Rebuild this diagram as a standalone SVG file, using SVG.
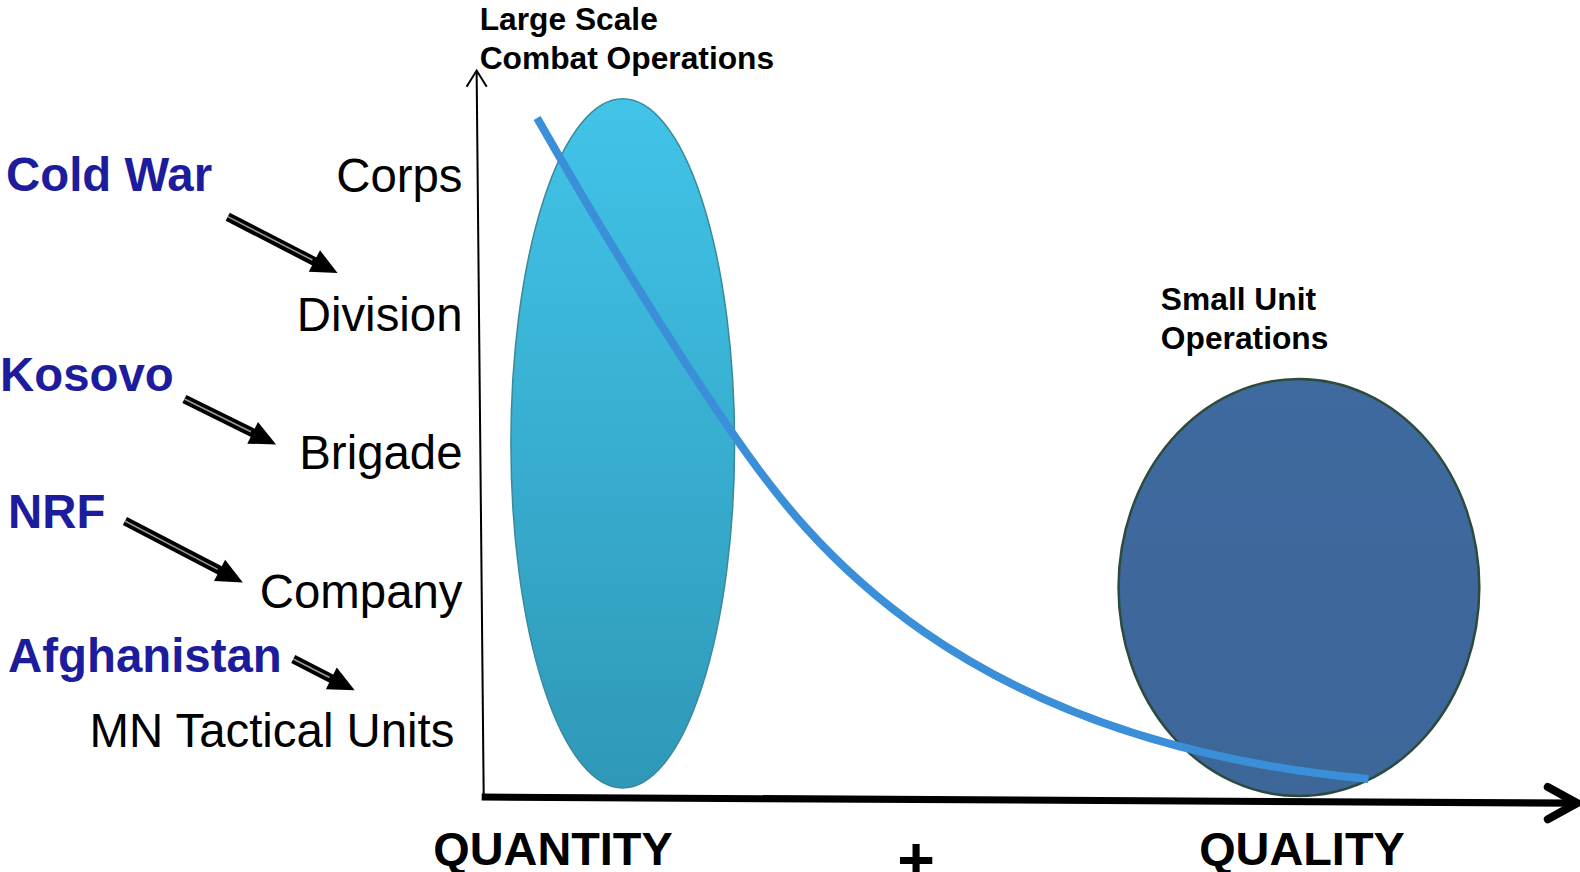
<svg xmlns="http://www.w3.org/2000/svg" width="1580" height="872" viewBox="0 0 1580 872">
<defs>
<linearGradient id="g1" x1="0" y1="0" x2="0" y2="1">
<stop offset="0" stop-color="#41c4e8"/>
<stop offset="1" stop-color="#2f98b8"/>
</linearGradient>
<linearGradient id="g2" x1="0" y1="0" x2="0" y2="1">
<stop offset="0" stop-color="#3f6a9f"/>
<stop offset="1" stop-color="#3d6699"/>
</linearGradient>
</defs>
<style>
.ax{font-family:"Liberation Sans",Arial,sans-serif;font-weight:bold;fill:#000}
.lv{font-family:"Liberation Sans",Arial,sans-serif;font-size:47px;fill:#000;text-anchor:end}
.era{font-family:"Liberation Sans",Arial,sans-serif;font-size:47px;font-weight:bold;fill:#1c1c9c}
.sh{stroke:#000;stroke-width:9;fill:none}
.hl{stroke:#9a9a9a;stroke-width:1.5;fill:none}
</style>
<rect width="1580" height="872" fill="#fff"/>
<g transform="scale(1.0077)">
<g id="ellipse-large">
<ellipse cx="618" cy="440" rx="111" ry="342" fill="url(#g1)" stroke="#3a8a9a" stroke-width="1.5"/>
</g>
<g id="ellipse-small">
<ellipse cx="1289" cy="583" rx="179" ry="207" fill="url(#g2)" stroke="#2d4b3d" stroke-width="2.5"/>
</g>
<g id="connectors">
<path d="M533,117 C593,222 662,336 727,430 C800,536 950,735 1358,773" stroke="#3b8fd8" stroke-width="8" fill="none"/>
<line x1="480" y1="790" x2="473" y2="72" stroke="#000" stroke-width="2"/>
<path d="M463,86 L473,70 L483,86" stroke="#000" stroke-width="2" fill="none"/>
<line x1="478" y1="791" x2="1562" y2="797" stroke="#000" stroke-width="7"/>
<path d="M1536,781 L1565,797 L1536,813" stroke="#000" stroke-width="8" fill="none" stroke-linecap="round" stroke-linejoin="round"/>
<g id="arrow1">
<line class="sh" x1="226" y1="215" x2="313" y2="260"/>
<line class="hl" x1="226" y1="215" x2="310" y2="258"/>
<path d="M306.4,269.6 L335,271 L317.6,248.4 Z" fill="#000"/>
</g>
<g id="arrow2">
<line class="sh" x1="183" y1="396" x2="252" y2="430"/>
<line class="hl" x1="183" y1="396" x2="249" y2="428.5"/>
<path d="M245.4,440.3 L274,441 L256,418.7 Z" fill="#000"/>
</g>
<g id="arrow3">
<line class="sh" x1="124" y1="517" x2="219" y2="566.5"/>
<line class="hl" x1="124" y1="517" x2="216" y2="565"/>
<path d="M212.4,576.6 L241,578 L223.4,555.4 Z" fill="#000"/>
</g>
<g id="arrow4">
<line class="sh" x1="291" y1="654" x2="330" y2="674"/>
<line class="hl" x1="291" y1="654" x2="327" y2="672.3"/>
<path d="M323.4,683.9 L352,685 L334.2,662.5 Z" fill="#000"/>
</g>
</g>
<g id="labels">
<text class="ax" x="476" y="30" font-size="31.5">Large Scale</text>
<text class="ax" x="476" y="68" font-size="31.5">Combat Operations</text>
<text class="ax" x="1152" y="308" font-size="31.5">Small Unit</text>
<text class="ax" x="1152" y="346" font-size="31.5">Operations</text>
<text class="ax" x="430" y="858" font-size="46.5">QUANTITY</text>
<text class="ax" x="1190" y="858" font-size="46.5">QUALITY</text>
<text class="ax" x="909" y="875" font-size="64" text-anchor="middle">+</text>
</g>
<g id="levels">
<text class="lv" x="459" y="191">Corps</text>
<text class="lv" x="459" y="328">Division</text>
<text class="lv" x="459" y="465">Brigade</text>
<text class="lv" x="459" y="603">Company</text>
<text class="lv" x="451" y="741" font-size="48">MN Tactical Units</text>
</g>
<g id="eras">
<text class="era" x="6" y="190">Cold War</text>
<text class="era" x="0" y="388">Kosovo</text>
<text class="era" x="8" y="524">NRF</text>
<text class="era" x="8" y="667">Afghanistan</text>
</g>
</g>
</svg>
